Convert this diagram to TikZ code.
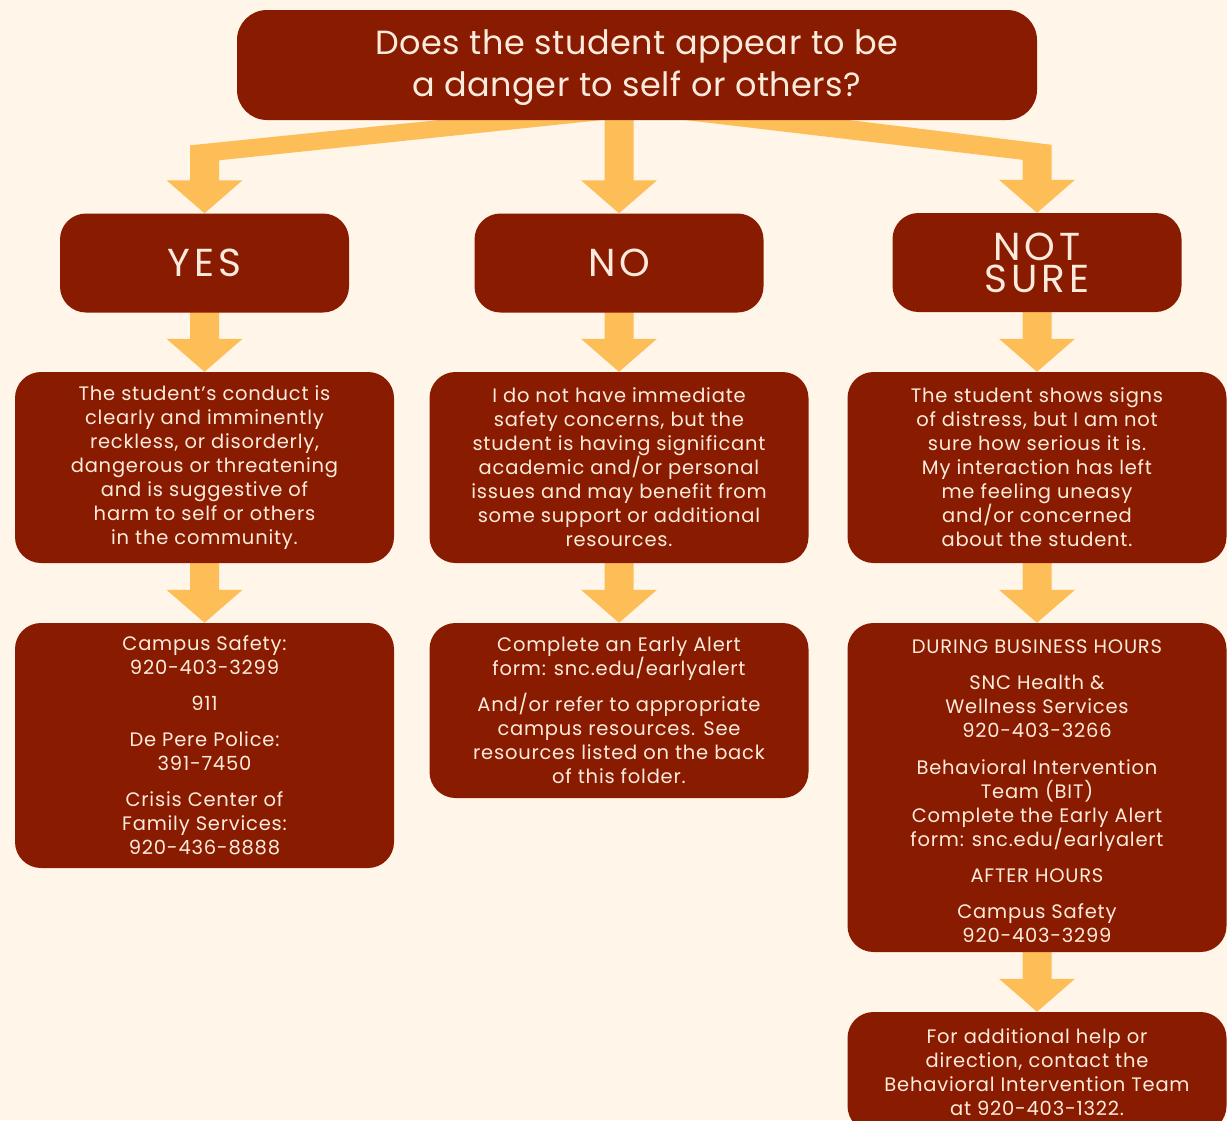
\documentclass[tikz,border=0pt]{standalone}
\usepackage{fontspec}
\setmainfont{Poppins}
\newfontfamily\bodyfam{Poppins}[LetterSpace=4]
\newfontfamily\titlefam{Poppins}[LetterSpace=1.5]
\newfontfamily\bigfam{Poppins}[LetterSpace=10]
\usetikzlibrary{calc,backgrounds}
\definecolor{bgc}{RGB}{255,246,233}
\definecolor{boxc}{RGB}{137,27,0}
\definecolor{arrc}{RGB}{253,190,88}
\definecolor{txtc}{RGB}{252,235,220}
\newcommand\blkdown[2]{%
  \fill[arrc] let \p1=(#1.south), \p2=(#2.north) in
   (\x2-14.5pt,\y1+2pt) -- (\x2+14.5pt,\y1+2pt) -- (\x2+14.5pt,\y2+33pt)
   -- (\x2+38pt,\y2+33pt) -- (\x2,\y2) -- (\x2-38pt,\y2+33pt)
   -- (\x2-14.5pt,\y2+33pt) -- cycle;}
\begin{document}
\begin{tikzpicture}[x=1pt,y=-1pt,
  box/.style={fill=boxc, rounded corners=26pt, text=txtc, align=center, inner sep=0pt},
  bodyt/.style={box, font=\bodyfam\fontsize{19.5}{24}\selectfont},
  bigt/.style={box, font=\bigfam\fontsize{39}{32}\selectfont, minimum width=289pt, minimum height=99pt},
  wide/.style={minimum width=379pt}]
\useasboundingbox (0,0) rectangle (1227,1120);
\clip (0,0) rectangle (1227,1120);
% nodes
\node[box, rounded corners=30pt, font=\titlefam\fontsize{33.5}{42}\selectfont,
  minimum width=800pt, minimum height=110pt] (top) at (637,65)
  {\rule{0pt}{30pt}Does the student appear to be\\a danger to self or others?};
\node[bigt] (yes) at (204.5,263) {YES};
\node[bigt] (no) at (619,263) {NO};
\node[bigt] (ns) at (1037,262.5) {NOT\\SURE};
\node[bodyt, wide, minimum height=191pt] (ya) at (204.5,467.5)
  {The student’s conduct is\\clearly and imminently\\reckless, or disorderly,\\dangerous or threatening\\and is suggestive of\\harm to self or others\\in the community.};
\node[bodyt, wide, minimum height=191pt] (na) at (619,467.5)
  {I do not have immediate\\safety concerns, but the\\student is having significant\\academic and/or personal\\issues and may benefit from\\some support or additional\\resources.};
\node[bodyt, wide, minimum height=191pt] (sa) at (1037,467.5)
  {The student shows signs\\of distress, but I am not\\sure how serious it is.\\My interaction has left\\me feeling uneasy\\and/or concerned\\about the student.};
\node[bodyt, wide, minimum height=245pt] (yb) at (204.5,745.5)
  {Campus Safety:\\920-403-3299\\[12pt]911\\[12pt]De Pere Police:\\391-7450\\[12pt]Crisis Center of\\Family Services:\\920-436-8888};
\node[bodyt, wide, minimum height=175pt] (nb) at (619,710.5)
  {Complete an Early Alert\\form: snc.edu/earlyalert\\[12pt]And/or refer to appropriate\\campus resources. See\\resources listed on the back\\of this folder.};
\node[bodyt, wide, minimum height=329pt] (sb) at (1037,787.5)
  {\rule{0pt}{21pt}DURING BUSINESS HOURS\\[12pt]SNC Health \&\\Wellness Services\\920-403-3266\\[13pt]Behavioral Intervention\\Team (BIT)\\Complete the Early Alert\\form: snc.edu/earlyalert\\[12pt]AFTER HOURS\\[12pt]Campus Safety\\920-403-3299};
\node[bodyt, wide, minimum height=120pt] (sc) at (1037,1072)
  {For additional help or\\direction, contact the\\Behavioral Intervention Team\\at 920-403-1322.};
% arrows behind boxes
\begin{scope}[on background layer]
\fill[bgc] (0,0) rectangle (1227,1120);
\coordinate (T) at (top.south);
\coordinate (Y) at (yes.north);
\coordinate (N) at (ns.north);
\fill[arrc] ($(T)+(-180,-2)$) -- ($(T)+(-18,-2)$) -- ($(Y)+(14.5,-53)$)
  -- ($(Y)+(14.5,-33)$) -- ($(Y)+(38,-33)$) -- (Y) -- ($(Y)+(-38,-33)$)
  -- ($(Y)+(-14.5,-33)$) -- ($(Y)+(-14.5,-68)$) -- cycle;
\fill[arrc] ($(T)+(33,-2)$) -- ($(T)+(197,-2)$) -- ($(N)+(14.5,-68)$)
  -- ($(N)+(14.5,-33)$) -- ($(N)+(38,-33)$) -- (N) -- ($(N)+(-38,-33)$)
  -- ($(N)+(-14.5,-33)$) -- ($(N)+(-14.5,-53)$) -- cycle;
\blkdown{top}{no}
\blkdown{yes}{ya}
\blkdown{no}{na}
\blkdown{ns}{sa}
\blkdown{ya}{yb}
\blkdown{na}{nb}
\blkdown{sa}{sb}
\blkdown{sb}{sc}
\end{scope}
\end{tikzpicture}
\end{document}
